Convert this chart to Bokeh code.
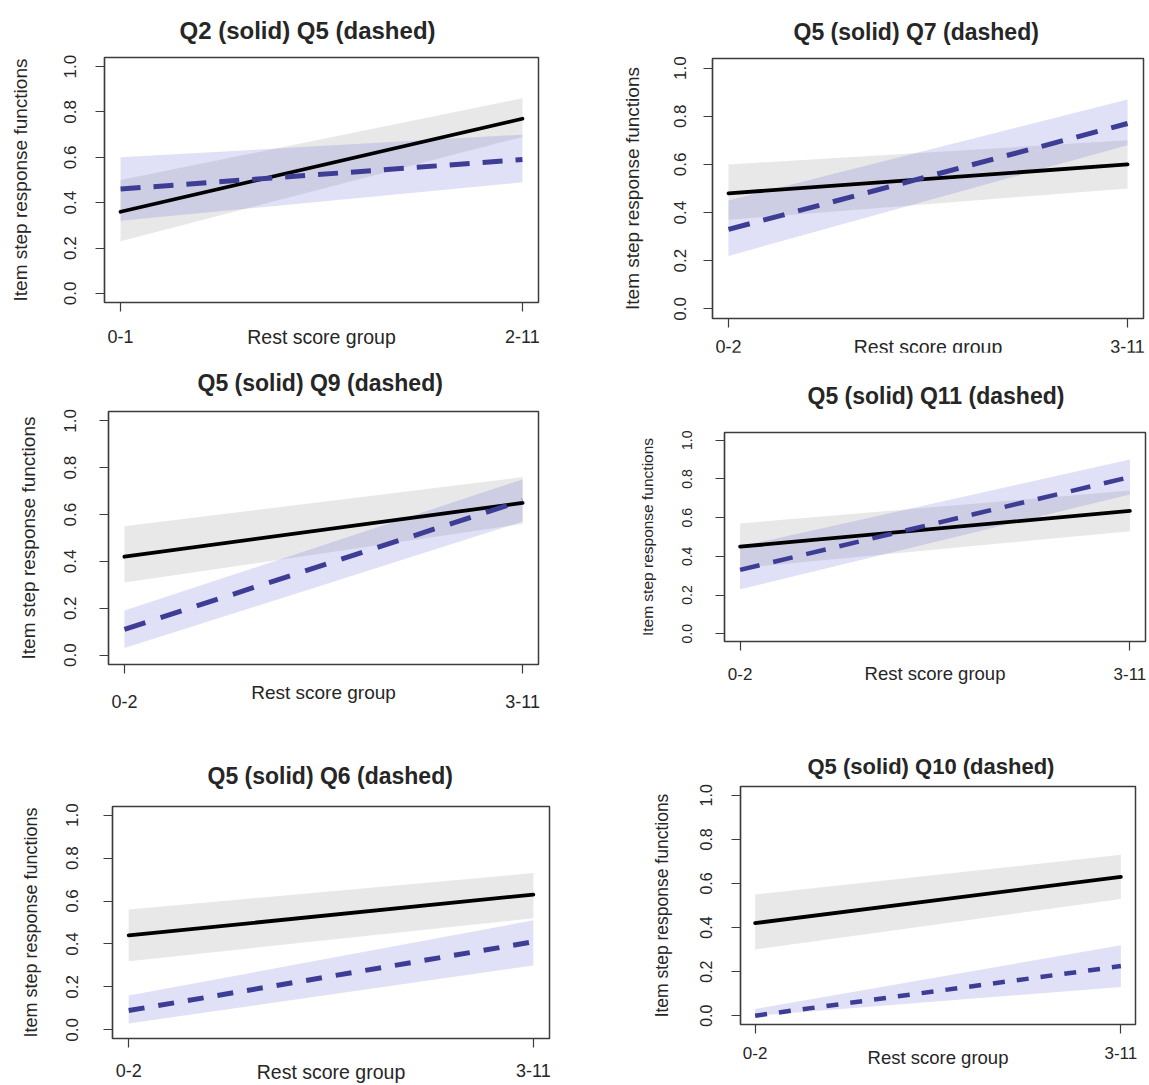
from bokeh.plotting import figure
from bokeh.layouts import column, row
from bokeh.models import FixedTicker, NumeralTickFormatter
from bokeh.embed import file_html
from bokeh.resources import INLINE

# ---------------- data ----------------
Y_TICKS = [0.0, 0.2, 0.4, 0.6, 0.8, 1.0]
X_LABEL = "Rest score group"
Y_LABEL = "Item step response functions"

P1_title = "Q2 (solid) Q5 (dashed)"
P1_groups = ["0-1", "2-11"]
P1_solid = [0.36, 0.77]
P1_solid_lo = [0.23, 0.69]
P1_solid_hi = [0.50, 0.86]
P1_dashed = [0.46, 0.59]
P1_dashed_lo = [0.32, 0.49]
P1_dashed_hi = [0.60, 0.70]

P2_title = "Q5 (solid) Q7 (dashed)"
P2_groups = ["0-2", "3-11"]
P2_solid = [0.48, 0.60]
P2_solid_lo = [0.37, 0.50]
P2_solid_hi = [0.60, 0.70]
P2_dashed = [0.33, 0.77]
P2_dashed_lo = [0.22, 0.68]
P2_dashed_hi = [0.45, 0.87]

P3_title = "Q5 (solid) Q9 (dashed)"
P3_groups = ["0-2", "3-11"]
P3_solid = [0.42, 0.65]
P3_solid_lo = [0.31, 0.56]
P3_solid_hi = [0.55, 0.76]
P3_dashed = [0.11, 0.66]
P3_dashed_lo = [0.03, 0.57]
P3_dashed_hi = [0.19, 0.75]

P4_title = "Q5 (solid) Q11 (dashed)"
P4_groups = ["0-2", "3-11"]
P4_solid = [0.45, 0.635]
P4_solid_lo = [0.34, 0.53]
P4_solid_hi = [0.57, 0.74]
P4_dashed = [0.33, 0.81]
P4_dashed_lo = [0.23, 0.72]
P4_dashed_hi = [0.45, 0.90]

P5_title = "Q5 (solid) Q6 (dashed)"
P5_groups = ["0-2", "3-11"]
P5_solid = [0.44, 0.63]
P5_solid_lo = [0.32, 0.52]
P5_solid_hi = [0.56, 0.73]
P5_dashed = [0.09, 0.41]
P5_dashed_lo = [0.03, 0.30]
P5_dashed_hi = [0.16, 0.51]

P6_title = "Q5 (solid) Q10 (dashed)"
P6_groups = ["0-2", "3-11"]
P6_solid = [0.42, 0.63]
P6_solid_lo = [0.30, 0.53]
P6_solid_hi = [0.55, 0.73]
P6_dashed = [0.00, 0.225]
P6_dashed_lo = [0.00, 0.13]
P6_dashed_hi = [0.03, 0.32]

FONT = "Liberation Sans"
TXT = "#262626"
AX = "#3c3c3c"
XR = (0.96, 2.04)
YR = (-0.04, 1.04)


def panel(title, groups, solid, slo, shi, dashed, dlo, dhi, *, cell, frame, title_off,
          title_standoff, title_fs, ytick_fs, ylab_fs, xtick_fs, xlab_fs, y_s1, y_s2,
          x_s1, x_s2, dash, dash_w):
    cx0, cy0, W, H = cell
    L, R, T, B = frame
    p = figure(width=W, height=H, x_range=XR, y_range=YR,
               output_backend="svg", toolbar_location=None,
               min_border_left=L - cx0, min_border_right=cx0 + W - R,
               min_border_top=T - cy0, min_border_bottom=cy0 + H - B)
    p.frame_align = False
    p.grid.visible = False
    p.outline_line_color = AX
    p.outline_line_width = 1.5
    p.outline_line_alpha = 1.0
    p.background_fill_color = "white"
    p.border_fill_color = "white"

    x = [i + 1 for i in range(len(groups))]
    p.varea(x=x, y1=slo, y2=shi, fill_color="#8c8c8c", fill_alpha=0.2)
    p.varea(x=x, y1=dlo, y2=dhi, fill_color="#6464d2", fill_alpha=0.2)
    p.line(x, solid, line_color="black", line_width=3.8, line_cap="round")
    p.line(x, dashed, line_color="#3d3d96", line_width=dash_w, line_dash=dash)

    p.title.text = title
    p.title.text_font = FONT
    p.title.text_font_style = "bold"
    p.title.text_font_size = f"{title_fs}px"
    p.title.text_color = TXT
    p.title.align = "left"
    p.title.offset = title_off
    p.title.standoff = title_standoff

    xa = p.xaxis[0]
    xa.ticker = FixedTicker(ticks=x)
    xa.major_label_overrides = {xi: g for xi, g in zip(x, groups)}
    xa.axis_label = X_LABEL
    ya = p.yaxis[0]
    ya.ticker = FixedTicker(ticks=Y_TICKS)
    ya.formatter = NumeralTickFormatter(format="0.0")
    ya.axis_label = Y_LABEL
    ya.major_label_orientation = "vertical"

    for a, tfs, lfs in ((xa, xtick_fs, xlab_fs), (ya, ytick_fs, ylab_fs)):
        a.axis_line_color = AX
        a.axis_line_width = 1.2
        a.major_tick_line_color = AX
        a.major_tick_line_width = 1.2
        a.major_tick_out = 9
        a.major_tick_in = 0
        a.minor_tick_line_color = None
        a.major_label_text_font = FONT
        a.major_label_text_font_size = f"{tfs}px"
        a.major_label_text_color = TXT
        a.axis_label_text_font = FONT
        a.axis_label_text_font_style = "normal"
        a.axis_label_text_font_size = f"{lfs}px"
        a.axis_label_text_color = TXT
    xa.major_label_standoff = x_s1
    xa.axis_label_standoff = x_s2
    ya.major_label_standoff = y_s1
    ya.axis_label_standoff = y_s2
    return p


p1 = panel(P1_title, P1_groups, P1_solid, P1_solid_lo, P1_solid_hi,
           P1_dashed, P1_dashed_lo, P1_dashed_hi,
           cell=(0, 0, 590, 360), frame=(104, 538, 56, 302), title_off=75,
           title_standoff=28,
           title_fs=24, ytick_fs=17, ylab_fs=19, xtick_fs=18, xlab_fs=19.5,
           y_s1=19, y_s2=31, x_s1=18, x_s2=-20, dash="20 13", dash_w=5)
p2 = panel(P2_title, P2_groups, P2_solid, P2_solid_lo, P2_solid_hi,
           P2_dashed, P2_dashed_lo, P2_dashed_hi,
           cell=(590, 0, 559, 372), frame=(712, 1143, 58, 318), title_off=81,
           title_standoff=28,
           title_fs=23, ytick_fs=17, ylab_fs=19, xtick_fs=18, xlab_fs=19.5,
           y_s1=17, y_s2=29, x_s1=12, x_s2=-20, dash="22 14", dash_w=5)
p3 = panel(P3_title, P3_groups, P3_solid, P3_solid_lo, P3_solid_hi,
           P3_dashed, P3_dashed_lo, P3_dashed_hi,
           cell=(0, 352, 590, 390), frame=(108, 538, 411, 664), title_off=89,
           title_standoff=31,
           title_fs=23, ytick_fs=17, ylab_fs=19, xtick_fs=18, xlab_fs=19,
           y_s1=23, y_s2=23, x_s1=21, x_s2=-29, dash="22 16", dash_w=5)
p4 = panel(P4_title, P4_groups, P4_solid, P4_solid_lo, P4_solid_hi,
           P4_dashed, P4_dashed_lo, P4_dashed_hi,
           cell=(590, 352, 559, 390), frame=(724, 1145, 432, 641), title_off=83,
           title_standoff=48,
           title_fs=23, ytick_fs=14, ylab_fs=15.5, xtick_fs=17, xlab_fs=18.5,
           y_s1=23, y_s2=24, x_s1=17, x_s2=-20, dash="20 14", dash_w=4.5)
p5 = panel(P5_title, P5_groups, P5_solid, P5_solid_lo, P5_solid_hi,
           P5_dashed, P5_dashed_lo, P5_dashed_hi,
           cell=(0, 742, 590, 343), frame=(112, 549, 806, 1044), title_off=95,
           title_standoff=36,
           title_fs=23, ytick_fs=17, ylab_fs=18, xtick_fs=18, xlab_fs=19.5,
           y_s1=25, y_s2=23, x_s1=16, x_s2=-19, dash="16 14", dash_w=5)
p6 = panel(P6_title, P6_groups, P6_solid, P6_solid_lo, P6_solid_hi,
           P6_dashed, P6_dashed_lo, P6_dashed_hi,
           cell=(590, 742, 559, 343), frame=(740, 1135, 786, 1024), title_off=67,
           title_standoff=16,
           title_fs=22, ytick_fs=16, ylab_fs=17.5, xtick_fs=17, xlab_fs=18.5,
           y_s1=19, y_s2=26, x_s1=13, x_s2=-15, dash="12 12", dash_w=4.5)

row1 = row(p1, p2)
row2 = row(p3, p4, margin=(-20, 0, 0, 0))
row3 = row(p5, p6)
layout = column(row1, row2, row3)
open("out.html", "w").write(file_html(layout, INLINE))
